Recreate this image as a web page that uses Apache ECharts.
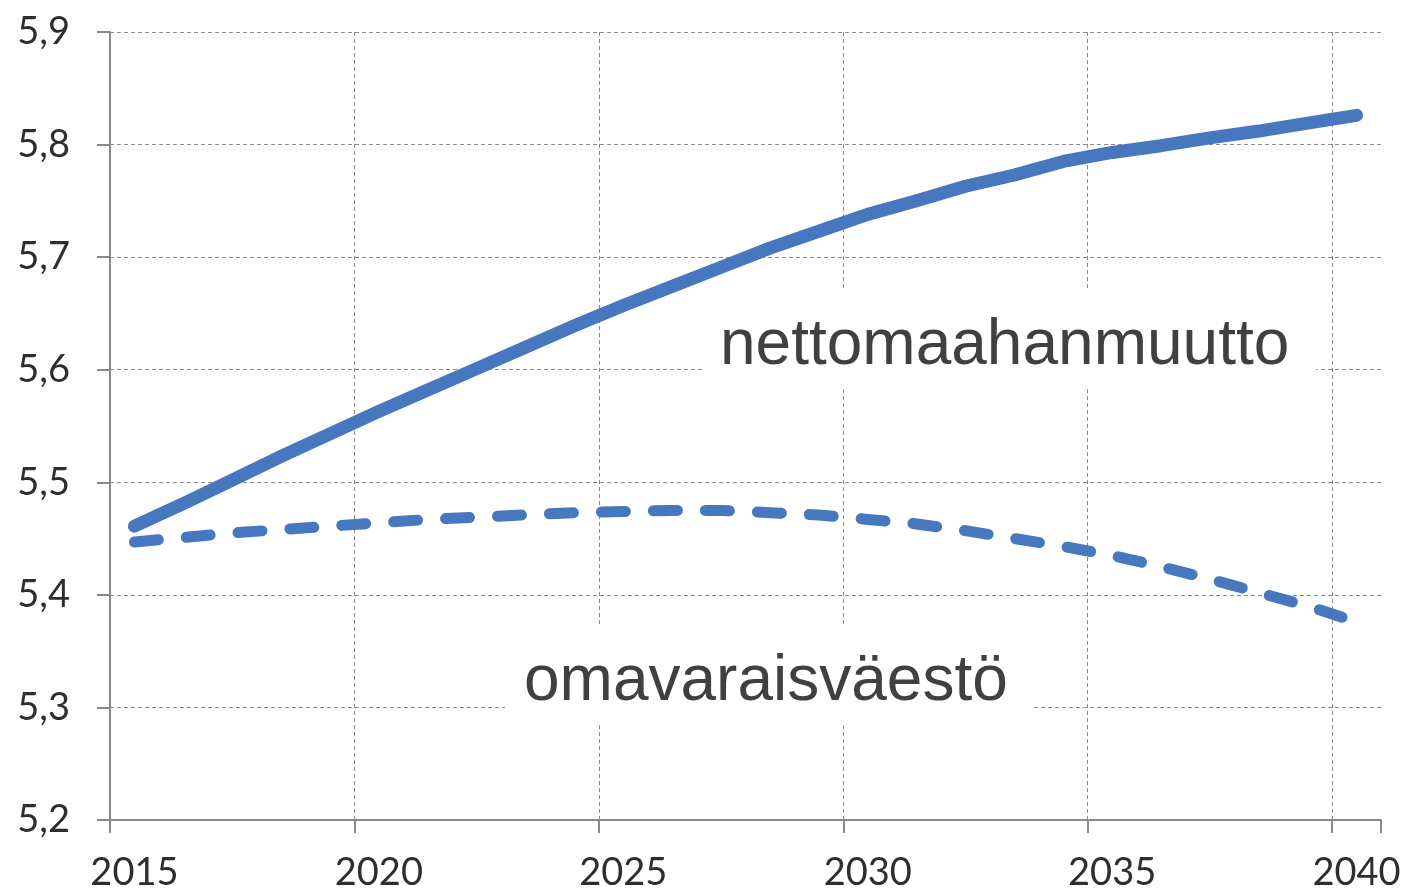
<!DOCTYPE html>
<html>
<head>
<meta charset="utf-8">
<script src="https://cdn.jsdelivr.net/npm/echarts@6/dist/echarts.min.js"></script>
<style>
html,body{margin:0;padding:0;background:#fff;}
#chart{width:1406px;height:893px;}
</style>
</head>
<body>
<div id="chart"></div>
<script>
const years = ['2015','2016','2017','2018','2019','2020','2021','2022','2023','2024','2025','2026','2027','2028','2029','2030','2031','2032','2033','2034','2035','2036','2037','2038','2039','2040'];
const nettomaahanmuutto = [5.461,5.481,5.502,5.523,5.543,5.563,5.582,5.601,5.620,5.639,5.657,5.674,5.691,5.708,5.723,5.738,5.750,5.763,5.773,5.785,5.793,5.799,5.806,5.812,5.819,5.826];
const omavaraisvaesto = [5.447,5.451,5.455,5.458,5.461,5.464,5.467,5.469,5.471,5.473,5.474,5.475,5.475,5.473,5.471,5.467,5.463,5.457,5.450,5.443,5.435,5.425,5.414,5.402,5.390,5.376];
const seriesNames = ['nettomaahanmuutto','omavaraisväestö'];
const yTicks = [5.2,5.3,5.4,5.5,5.6,5.7,5.8,5.9];

const chart = echarts.init(document.getElementById('chart'), null, {renderer:'canvas'});
const blue = '#4677bf';
const gridGray = '#8a8a8a';
const axisGray = '#8a8a8a';
const labelFont = {fontFamily:'Lato, "Open Sans", sans-serif', fontSize:38, color:'#2e2e2e'};

chart.setOption({
  animation:false,
  backgroundColor:'#fff',
  grid:{left:110, right:25, top:32, bottom:73, containLabel:false},
  xAxis:{
    type:'category',
    data:years,
    boundaryGap:true,
    axisLine:{show:true, lineStyle:{color:axisGray, width:2}},
    axisTick:{show:true, interval:4, length:13, lineStyle:{color:axisGray, width:2}},
    axisLabel:Object.assign({interval:4, margin:34}, labelFont),
    splitLine:{show:true, interval:4, lineStyle:{color:[gridGray,gridGray,gridGray,gridGray,gridGray,gridGray,'rgba(0,0,0,0)'], width:1, type:[4,3]}}
  },
  yAxis:{
    type:'value',
    min:yTicks[0], max:yTicks[yTicks.length-1], interval:0.1,
    axisLine:{show:true, lineStyle:{color:axisGray, width:2}},
    axisTick:{show:true, length:13, lineStyle:{color:axisGray, width:2}},
    axisLabel:Object.assign({margin:40, formatter:function(v){return v.toFixed(1).replace('.',',');}}, labelFont),
    splitLine:{show:true, lineStyle:{color:gridGray, width:1, type:[4,3]}}
  },
  series:[
    {name:seriesNames[0], type:'line', data:nettomaahanmuutto, showSymbol:false, symbol:'none',
     lineStyle:{color:blue, width:13, cap:'round', join:'round'}, z:3},
    {name:seriesNames[1], type:'line', data:omavaraisvaesto, showSymbol:false, symbol:'none',
     lineStyle:{color:blue, width:11, type:[24,28], cap:'round', join:'round'}, z:3}
  ],
  graphic:[
    {type:'text', x:702, y:290, z:10,
     style:{text:seriesNames[0], font:'64px "Liberation Sans", Arial, sans-serif', fill:'#404040',
            backgroundColor:'#fff', padding:[24,27,10,18], align:'left', verticalAlign:'top'}},
    {type:'text', x:505, y:625, z:10,
     style:{text:seriesNames[1], font:'64px "Liberation Sans", Arial, sans-serif', fill:'#404040',
            backgroundColor:'#fff', padding:[25,26,9,19], align:'left', verticalAlign:'top'}}
  ]
});
</script>
</body>
</html>
